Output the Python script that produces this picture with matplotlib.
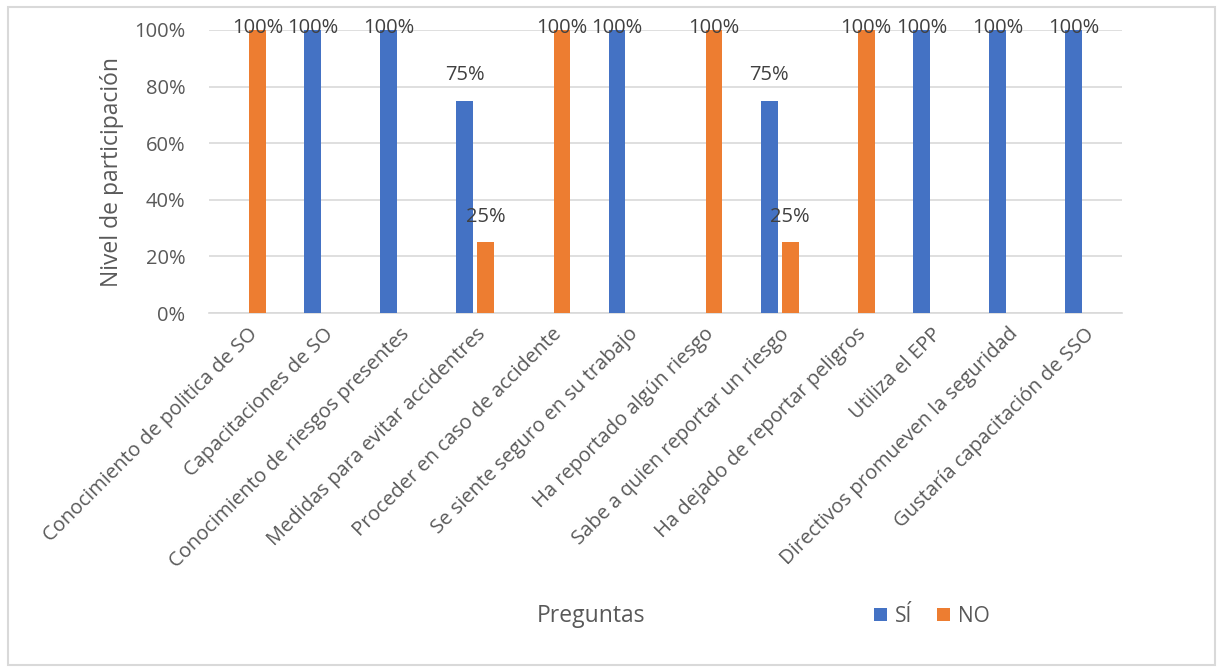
import numpy as np
import matplotlib.pyplot as plt
from matplotlib.patches import Rectangle

preguntas = [
    "Conocimiento de politica de SO",
    "Capacitaciones de SO",
    "Conocimiento de riesgos presentes",
    "Medidas para evitar accidentres",
    "Proceder en caso de accidente",
    "Se siente seguro en su trabajo",
    "Ha reportado algún riesgo",
    "Sabe a quien reportar un riesgo",
    "Ha dejado de reportar peligros",
    "Utiliza el EPP",
    "Directivos promueven la seguridad",
    "Gustaría capacitación de SSO",
]
si = [0, 100, 100, 75, 0, 100, 0, 75, 0, 100, 100, 100]
no = [100, 0, 0, 25, 100, 0, 100, 25, 100, 0, 0, 0]

plt.rcParams['font.family'] = ['Open Sans', 'DejaVu Sans']
gris = "#595959"

fig = plt.figure(figsize=(12.24, 6.71), dpi=100)
ax = fig.add_axes([0.1708, 0.5335, 0.7459, 0.4218])

x = np.arange(len(preguntas))
w = 0.22
off = 0.138
b1 = ax.bar(x - off, si, w, color="#4472C4", label="SÍ", zorder=3)
b2 = ax.bar(x + off, no, w, color="#ED7D31", label="NO", zorder=3)

# etiquetas de datos (solo valores distintos de cero)
for bars, vals in [(b1, si), (b2, no)]:
    for rect, v in zip(bars, vals):
        if v == 0:
            continue
        y = min(v + 9, 100.7)
        ax.text(rect.get_x() + rect.get_width() / 2, y, f"{v}%", ha="center",
                va="center", fontsize=14.5, color="#404040", zorder=4)

ax.set_xlim(-0.5, len(preguntas) - 0.5)
ax.set_ylim(0, 100)
ax.set_yticks(range(0, 101, 20))
ax.set_yticklabels([f"{t}%" for t in range(0, 101, 20)], fontsize=14.5, color=gris)
ax.set_xticks(x)
ax.set_xticklabels(preguntas, rotation=45, ha="right", rotation_mode="anchor",
                   fontsize=14.5, color=gris)
ax.tick_params(length=0)
ax.tick_params(axis="y", pad=17)
ax.tick_params(axis="x", pad=8)
ax.grid(axis="y", color="#D9D9D9", linewidth=1.2, zorder=0)
for s in ["top", "right", "left"]:
    ax.spines[s].set_visible(False)
ax.spines["bottom"].set_color("#D9D9D9")
ax.spines["bottom"].set_linewidth(1.2)

ax.set_ylabel("Nivel de participación", fontsize=16.5, color=gris, labelpad=7)
fig.text(591 / 1224, 1 - 616 / 671, "Preguntas", ha="center", va="center",
         fontsize=16.5, color=gris)

fig.legend(handles=[b1, b2], loc="center", bbox_to_anchor=(932 / 1224, 1 - 616 / 671),
           ncol=2, frameon=False, fontsize=15, labelcolor=gris,
           handlelength=0.6, handleheight=0.6, columnspacing=1.2, handletextpad=0.4)

fig.patches.append(Rectangle((8 / 1224, 1 - 665 / 671), 1207 / 1224, 658 / 671,
                             transform=fig.transFigure, fill=False,
                             edgecolor="#D9D9D9", linewidth=1.5))

fig.savefig("out.png", dpi=100)
